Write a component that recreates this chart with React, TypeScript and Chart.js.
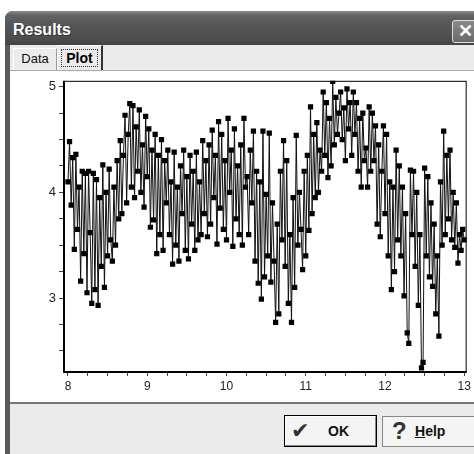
import React, { useEffect, useRef } from "react";
import { Chart, registerables } from "chart.js";
Chart.register(...registerables);

// ---- data ----
const X_START = 8.0;
const X_STEP = 0.02;
const Y_VALUES = [
  4.10, 4.48, 3.88, 4.33, 3.46, 4.36, 3.65, 4.05, 3.16, 4.20,
  3.42, 4.18, 3.05, 4.20, 3.62, 2.95, 4.18, 3.08, 4.12, 2.93,
  3.95, 3.30, 4.26, 3.10, 4.00, 3.40, 4.22, 3.55, 3.35, 4.05,
  3.50, 4.30, 3.75, 4.49, 3.80, 4.35, 4.73, 3.90, 4.55, 4.84,
  4.05, 4.82, 3.95, 4.62, 4.20, 4.78, 4.00, 4.45, 3.86, 4.72,
  4.15, 4.60, 3.67, 4.40, 3.74, 4.55, 3.42, 4.35, 3.60, 4.50,
  3.45, 4.30, 3.90, 4.40, 3.60, 4.10, 3.32, 4.38, 3.50, 4.05,
  3.35, 4.25, 3.80, 4.40, 3.45, 4.15, 3.37, 4.35, 3.70, 4.20,
  3.45, 4.38, 3.55, 4.10, 3.60, 4.49, 3.80, 4.30, 3.58, 4.45,
  3.70, 4.59, 3.95, 4.35, 3.51, 4.67, 3.85, 4.55, 3.65, 4.30,
  3.55, 4.70, 4.00, 4.40, 3.49, 4.60, 3.75, 4.25, 3.60, 4.45,
  3.50, 4.70, 4.05, 4.15, 3.60, 4.40, 3.90, 4.58, 3.35, 4.20,
  3.14, 4.10, 2.99, 4.58, 3.20, 3.98, 3.40, 4.56, 3.15, 3.90,
  3.35, 2.77, 3.70, 2.85, 4.20, 3.55, 4.49, 3.30, 4.30, 2.95,
  3.60, 2.77, 3.95, 3.10, 4.54, 3.50, 4.00, 3.65, 3.27, 4.20,
  3.40, 4.35, 3.64, 4.81, 3.80, 4.55, 3.95, 4.66, 4.00, 4.40,
  4.20, 4.95, 4.35, 4.85, 4.14, 4.70, 4.25, 5.05, 4.45, 4.90,
  4.55, 4.75, 4.95, 4.50, 4.80, 4.30, 4.98, 4.60, 4.85, 4.35,
  4.95, 4.55, 4.85, 4.20, 4.70, 4.05, 4.75, 4.30, 4.42, 4.05,
  4.81, 4.20, 4.75, 4.30, 4.63, 3.70, 4.45, 3.58, 4.20, 4.63,
  3.80, 4.55, 3.40, 4.10, 3.08, 4.05, 3.25, 4.40, 3.55, 4.25,
  3.40, 4.05, 3.02, 3.80, 2.67, 2.57, 4.21, 3.60, 4.20, 3.30,
  4.00, 2.93, 3.60, 2.34, 2.39, 4.23, 3.40, 4.15, 3.20, 3.90,
  3.11, 3.70, 2.85, 3.40, 2.64, 4.10, 3.50, 4.58, 3.60, 4.35,
  3.75, 4.40, 3.55, 4.00, 3.48, 3.90, 3.33, 3.60, 3.45, 3.65,
  3.55,
];
const X_TICKS = [
  8, 8.25, 8.5, 8.75, 9, 9.25, 9.5, 9.75, 10, 10.25, 10.5, 10.75,
  11, 11.25, 11.5, 11.75, 12, 12.25, 12.5, 12.75, 13,
];
const X_LABELS = [8, 9, 10, 11, 12, 13];
const Y_TICKS = [2.5, 2.75, 3, 3.25, 3.5, 3.75, 4, 4.25, 4.5, 4.75, 5];
const Y_LABELS = [3, 4, 5];
const X_MIN = 7.95;
const X_MAX = 13.03;
const Y_MIN = 2.3;
const Y_MAX = 5.056;

const framePlugin = {
  id: "frame",
  afterDatasetsDraw(chart: any) {
    const { ctx, chartArea: a } = chart;
    ctx.save();
    ctx.strokeStyle = "#000";
    ctx.lineWidth = 1;
    ctx.strokeRect(a.left + 0.5, a.top + 0.5, a.right - a.left - 1, a.bottom - a.top - 1);
    ctx.lineWidth = 2;
    ctx.beginPath();
    ctx.moveTo(a.left, a.top);
    ctx.lineTo(a.left, a.bottom);
    ctx.lineTo(a.right, a.bottom);
    ctx.stroke();
    ctx.restore();
  },
};

function PlotChart() {
  const ref = useRef<HTMLCanvasElement | null>(null);
  useEffect(() => {
    if (!ref.current) return;
    const pts = Y_VALUES.map((y, i) => ({ x: X_START + i * X_STEP, y }));
    const font = { family: '"Liberation Sans", Arial, sans-serif', size: 12 };
    const chart = new Chart(ref.current, {
      type: "line",
      data: {
        datasets: [
          {
            data: pts,
            borderColor: "#111",
            borderWidth: 1,
            pointStyle: "rect",
            pointRadius: 3.7,
            pointBackgroundColor: "#000",
            pointBorderWidth: 0,
            tension: 0,
          },
        ],
      },
      options: {
        animation: false,
        responsive: false,
        maintainAspectRatio: false,
        events: [],
        layout: { padding: { top: 7, right: 7, left: 0, bottom: 0 } },
        plugins: { legend: { display: false }, tooltip: { enabled: false } },
        scales: {
          x: {
            type: "linear",
            min: X_MIN,
            max: X_MAX,
            afterBuildTicks: (s: any) => {
              s.ticks = X_TICKS.map((v) => ({ value: v }));
            },
            afterFit: (s: any) => {
              s.height = 31;
            },
            border: { display: false },
            grid: { drawOnChartArea: false, drawTicks: true, tickLength: 4, color: "#444" },
            ticks: {
              autoSkip: false,
              maxRotation: 0,
              padding: 3,
              color: "#222",
              font,
              callback: (v: any) => (X_LABELS.includes(v) ? String(v) : ""),
            },
          },
          y: {
            type: "linear",
            min: Y_MIN,
            max: Y_MAX,
            afterBuildTicks: (s: any) => {
              s.ticks = Y_TICKS.map((v) => ({ value: v }));
            },
            afterFit: (s: any) => {
              s.width = 54;
            },
            border: { display: false },
            grid: { drawOnChartArea: false, drawTicks: true, tickLength: 5, color: "#444" },
            ticks: {
              autoSkip: false,
              padding: 3,
              color: "#222",
              font: { ...font, size: 13 },
              callback: (v: any) => (Y_LABELS.includes(v) ? String(v) : ""),
            },
          },
        },
      },
      plugins: [framePlugin],
    });
    return () => chart.destroy();
  }, []);
  return <canvas ref={ref} width={464} height={333} style={{ position: "absolute", left: 10, top: 70, width: 464, height: 333 }} />;
}

export default function App() {
  const ui = '"Liberation Sans", Arial, sans-serif';
  return (
    <div style={{ position: "fixed", left: 0, top: 0, width: 474, height: 454, background: "#fff", overflow: "hidden", fontFamily: ui }}>
      {/* window frame */}
      <div style={{ position: "absolute", left: 5, top: 11, width: 480, height: 460, background: "#5a5a5a", borderRadius: "8px 8px 0 0" }} />
      {/* title bar */}
      <div
        style={{
          position: "absolute", left: 5, top: 11, width: 480, height: 34,
          borderRadius: "8px 8px 0 0",
          background: "linear-gradient(#8c8c8c 0%, #626262 12%, #555 45%, #4d4d4d 80%, #444 100%)",
        }}
      />
      <div style={{ position: "absolute", left: 13, top: 21, color: "#fff", fontWeight: "bold", fontSize: 16, textShadow: "1px 1px 0 #333" }}>Results</div>
      {/* close button */}
      <div
        style={{
          position: "absolute", left: 452, top: 20, width: 24, height: 21, borderRadius: 3,
          border: "1px solid #ddd", background: "linear-gradient(#8a8a8a, #6a6a6a)",
          color: "#fff", fontWeight: "bold", fontSize: 18, lineHeight: "21px", textAlign: "center",
        }}
      >
        ✕
      </div>
      {/* client area */}
      <div style={{ position: "absolute", left: 10, top: 45, width: 470, height: 420, background: "#ebebeb" }} />
      {/* tabs */}
      <div style={{ position: "absolute", left: 13, top: 48, width: 44, height: 22, borderTop: "1px solid #fff", borderLeft: "1px solid #fff", borderRight: "1px solid #999", boxSizing: "border-box", fontSize: 13, color: "#111", textAlign: "center", lineHeight: "20px" }}>
        Data
      </div>
      <div style={{ position: "absolute", left: 57, top: 45, width: 46, height: 26, borderTop: "1px solid #fff", borderLeft: "1px solid #fff", borderRight: "2px solid #333", boxSizing: "border-box", background: "#ebebeb" }}>
        <div style={{ position: "absolute", left: 3, top: 3, width: 37, height: 18, border: "1px dotted #333", boxSizing: "border-box", fontWeight: "bold", fontSize: 14, color: "#000", textAlign: "center", lineHeight: "16px" }}>
          Plot
        </div>
      </div>
      {/* white panel */}
      <div style={{ position: "absolute", left: 10, top: 70, width: 470, height: 333, background: "#fff", borderTop: "1px solid #aaa" , boxSizing: "border-box"}} />
      <div style={{ position: "absolute", left: 10, top: 402, width: 470, height: 2, background: "#777" }} />
      <PlotChart />
      {/* OK button */}
      <div style={{ position: "absolute", left: 284, top: 415, width: 93, height: 32, border: "1px solid #000", boxSizing: "border-box", background: "#f4f4f4" }}>
        <div style={{ position: "absolute", inset: 0, border: "1px solid #fff", borderRightColor: "#888", borderBottomColor: "#888" }} />
        <div style={{ position: "absolute", left: 6, top: 2, fontSize: 22, color: "#333", fontFamily: '"DejaVu Sans", sans-serif' }}>✔</div>
        <div style={{ position: "absolute", left: 43, top: 7, fontSize: 14, fontWeight: "bold", color: "#111" }}>OK</div>
      </div>
      {/* Help button */}
      <div style={{ position: "absolute", left: 382, top: 416, width: 100, height: 31, border: "1px solid #888", boxSizing: "border-box", background: "#f4f4f4" }}>
        <div style={{ position: "absolute", left: 9, top: 0, fontSize: 24, fontWeight: "bold", color: "#333" }}>?</div>
        <div style={{ position: "absolute", left: 32, top: 6, fontSize: 14, fontWeight: "bold", color: "#111" }}>
          <span style={{ textDecoration: "underline" }}>H</span>elp
        </div>
      </div>
    </div>
  );
}
